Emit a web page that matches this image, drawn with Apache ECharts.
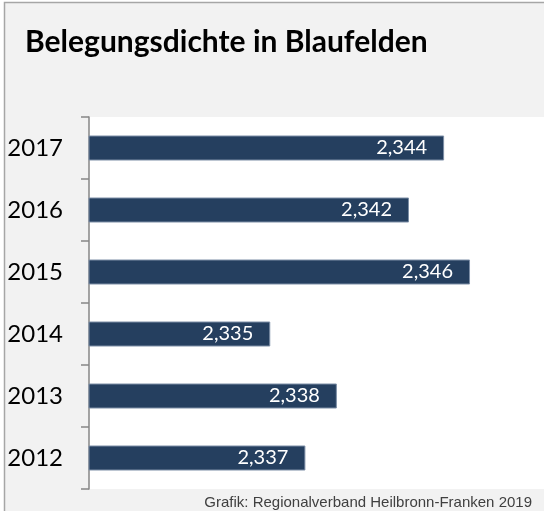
<!DOCTYPE html>
<html>
<head>
<meta charset="utf-8">
<script src="https://cdn.jsdelivr.net/npm/echarts@6/dist/echarts.min.js"></script>
<style>
  html, body { margin: 0; padding: 0; background: #fff; }
  #chart { width: 544px; height: 511px; }
</style>
</head>
<body>
<div id="chart"></div>
<script>
// Belegungsdichte (Personen je Wohnung)
var years = ['2012', '2013', '2014', '2015', '2016', '2017'];
var density = [2.3367, 2.3384, 2.3348, 2.3456, 2.3423, 2.3442];
var titleText = 'Belegungsdichte in Blaufelden';
var sourceText = 'Grafik: Regionalverband Heilbronn-Franken 2019';

var chart = echarts.init(document.getElementById('chart'));

var option = {
  animation: false,
  backgroundColor: '#fff',
  graphic: [{
    type: 'rect',
    z: -10,
    shape: { x: 4.5, y: 2.5, width: 600, height: 600 },
    style: { fill: '#f2f2f2', stroke: '#a6a6a6', lineWidth: 1.5 }
  }],
  title: [{
    text: titleText,
    left: 20,
    top: 22,
    textStyle: { fontFamily: 'Lato', fontWeight: 'bold', fontSize: 30, color: '#000' }
  }, {
    text: sourceText,
    right: 7,
    bottom: -4,
    textStyle: { fontFamily: 'Liberation Sans', fontWeight: 'normal', fontSize: 15, color: '#404040' }
  }],
  grid: {
    left: 89,
    top: 117,
    height: 372,
    right: 0,
    show: true,
    backgroundColor: '#fff',
    borderWidth: 0
  },
  xAxis: {
    type: 'value',
    min: 2.325,
    max: 2.3496,
    show: false
  },
  yAxis: {
    type: 'category',
    data: years,
    axisLine: { show: true, lineStyle: { color: '#868686', width: 1.5 } },
    axisTick: { show: true, length: 8, lineStyle: { color: '#868686', width: 1.5 } },
    axisLabel: { margin: 26, fontFamily: 'Lato', fontSize: 24, color: '#000' }
  },
  series: [{
    type: 'bar',
    data: density,
    barWidth: 25,
    itemStyle: { color: '#253f5f', borderColor: '#7d8ea6', borderWidth: 1 },
    label: {
      show: true,
      position: 'insideRight',
      distance: 17,
      color: '#fff',
      fontFamily: 'Lato',
      fontSize: 20,
      formatter: function (p) { return p.value.toFixed(3).replace('.', ','); }
    }
  }]
};

chart.setOption(option);
</script>
</body>
</html>
